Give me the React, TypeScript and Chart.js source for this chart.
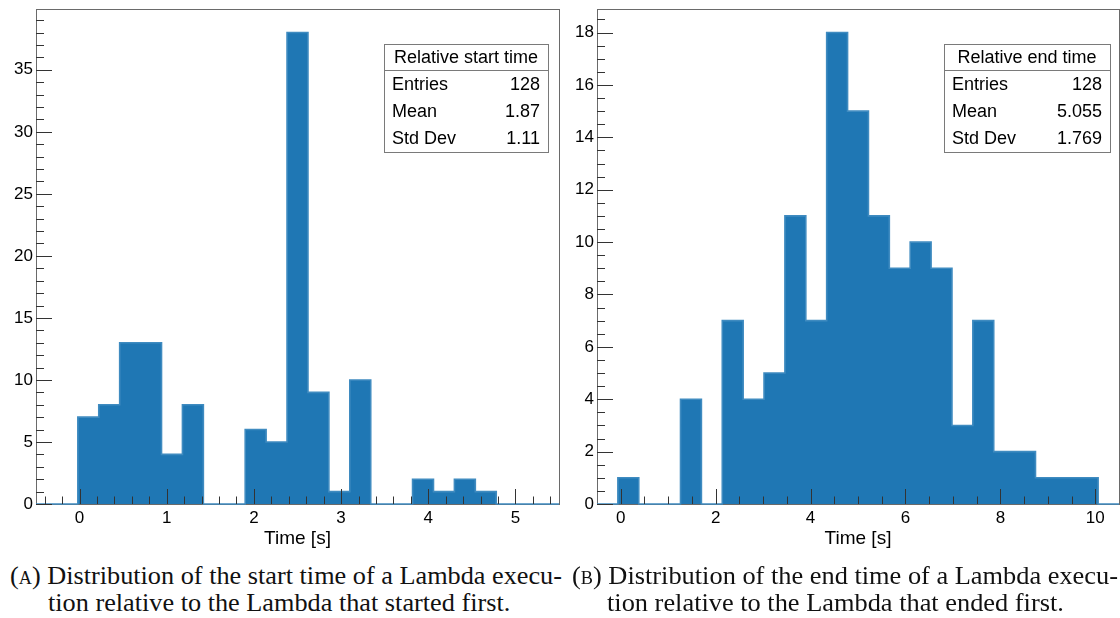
import React, { useEffect, useLayoutEffect, useRef } from 'react';
import { Chart, registerables } from 'chart.js';

Chart.register(...registerables);

const SANS = '"Liberation Sans", Arial, Helvetica, sans-serif';
const SERIF = '"Liberation Serif", "Times New Roman", serif';
const BAR_FILL = '#1f77b4';
const BAR_EDGE = '#3f8bc0';

// (A) relative start time: 25 bins of 0.24 s over [-0.5, 5.5]
const startBinEdges = [
  -0.5, -0.26, -0.02, 0.22, 0.46, 0.7, 0.94, 1.18, 1.42, 1.66, 1.9, 2.14, 2.38,
  2.62, 2.86, 3.1, 3.34, 3.58, 3.82, 4.06, 4.3, 4.54, 4.78, 5.02, 5.26, 5.5,
];
const startCounts = [0, 0, 7, 8, 13, 13, 4, 8, 0, 0, 6, 5, 38, 9, 1, 10, 0, 0, 2, 1, 2, 1, 0, 0, 0];
const startXTicks = [0, 1, 2, 3, 4, 5];
const startYTicks = [0, 5, 10, 15, 20, 25, 30, 35];
const startStatLabels = ['Entries', 'Mean', 'Std Dev'];
const startStatValues = ['128', '1.87', '1.11'];

// (B) relative end time: 25 bins of 0.44 s over [-0.5, 10.5]
const endBinEdges = [
  -0.5, -0.06, 0.38, 0.82, 1.26, 1.7, 2.14, 2.58, 3.02, 3.46, 3.9, 4.34, 4.78,
  5.22, 5.66, 6.1, 6.54, 6.98, 7.42, 7.86, 8.3, 8.74, 9.18, 9.62, 10.06, 10.5,
];
const endCounts = [0, 1, 0, 0, 4, 0, 7, 4, 5, 11, 7, 18, 15, 11, 9, 10, 9, 3, 7, 2, 2, 1, 1, 1, 0];
const endXTicks = [0, 2, 4, 6, 8, 10];
const endYTicks = [0, 2, 4, 6, 8, 10, 12, 14, 16, 18];
const endStatLabels = ['Entries', 'Mean', 'Std Dev'];
const endStatValues = ['128', '5.055', '1.769'];

type FrameOpts = {
  xMinorStep: number;
  yMinorStep: number;
  statsTitle: string;
  statLabels: string[];
  statValues: string[];
  boxGap: number;
  boxWidth: number;
};

const crisp = (v: number) => Math.round(v) + 0.5;

// Frame under the histogram; inward ticks and the statistics box over it
const histFrame = {
  id: 'histFrame',
  beforeDatasetsDraw(chart: any) {
    const { ctx, chartArea } = chart;
    const { left, right, top, bottom } = chartArea;
    ctx.save();
    ctx.strokeStyle = '#6a6a6a';
    ctx.lineWidth = 1;
    ctx.strokeRect(crisp(left), crisp(top), Math.round(right - left), Math.round(bottom - top));
    ctx.restore();
  },
  afterDatasetsDraw(chart: any, _args: any, opts: FrameOpts) {
    const { ctx, chartArea, scales } = chart;
    const { left, right, top, bottom } = chartArea;
    const xs = scales.x;
    const ys = scales.y;
    ctx.save();

    ctx.strokeStyle = '#333';
    ctx.lineWidth = 1;
    ctx.beginPath();
    const majorX = new Set(xs.ticks.map((t: any) => t.value));
    const majorY = new Set(ys.ticks.map((t: any) => t.value));
    const kx0 = Math.ceil(xs.min / opts.xMinorStep - 1e-6);
    const kx1 = Math.floor(xs.max / opts.xMinorStep + 1e-6);
    for (let k = kx0; k <= kx1; k++) {
      const v = +(k * opts.xMinorStep).toFixed(6);
      if (majorX.has(v)) continue;
      const px = crisp(xs.getPixelForValue(v));
      if (px <= left + 1 || px >= right - 1) continue;
      ctx.moveTo(px, bottom);
      ctx.lineTo(px, bottom - 7.5);
    }
    xs.ticks.forEach((t: any) => {
      const px = crisp(xs.getPixelForValue(t.value));
      ctx.moveTo(px, bottom);
      ctx.lineTo(px, bottom - 15);
    });
    const ky1 = Math.floor(ys.max / opts.yMinorStep + 1e-6);
    for (let k = 1; k <= ky1; k++) {
      const v = +(k * opts.yMinorStep).toFixed(6);
      if (majorY.has(v)) continue;
      const py = crisp(ys.getPixelForValue(v));
      if (py <= top + 1) continue;
      ctx.moveTo(left, py);
      ctx.lineTo(left + 8, py);
    }
    ys.ticks.forEach((t: any) => {
      const py = crisp(ys.getPixelForValue(t.value));
      ctx.moveTo(left, py);
      ctx.lineTo(left + 16, py);
    });
    ctx.stroke();

    // statistics box
    const bx1 = Math.round(right - opts.boxGap);
    const bx0 = bx1 - opts.boxWidth;
    const by0 = Math.round(top + 35);
    const headH = 26;
    const rowH = 27;
    const by1 = by0 + headH + rowH * opts.statLabels.length + 1;
    ctx.fillStyle = '#fff';
    ctx.fillRect(bx0, by0, bx1 - bx0, by1 - by0);
    ctx.strokeStyle = '#7a7a7a';
    ctx.strokeRect(bx0 + 0.5, by0 + 0.5, bx1 - bx0, by1 - by0);
    ctx.beginPath();
    ctx.moveTo(bx0, by0 + headH + 0.5);
    ctx.lineTo(bx1, by0 + headH + 0.5);
    ctx.stroke();

    ctx.fillStyle = '#000';
    ctx.font = `18px ${SANS}`;
    ctx.textBaseline = 'middle';
    ctx.textAlign = 'center';
    ctx.fillText(opts.statsTitle, (bx0 + bx1) / 2, by0 + 14);
    opts.statLabels.forEach((lab, i) => {
      const cy = by0 + headH + 15 + i * rowH;
      ctx.textAlign = 'left';
      ctx.fillText(lab, bx0 + 8, cy);
      ctx.textAlign = 'right';
      ctx.fillText(opts.statValues[i], bx1 - 8, cy);
    });
    ctx.restore();
  },
};

type HistProps = {
  edges: number[];
  counts: number[];
  xMin: number;
  xMax: number;
  yMax: number;
  xTicks: number[];
  yTicks: number[];
  xMinorStep: number;
  yMinorStep: number;
  statsTitle: string;
  statLabels: string[];
  statValues: string[];
  yAxisWidth: number;
  padRight: number;
  boxGap: number;
  boxWidth: number;
  left: number;
  width: number;
};

const CANVAS_H = 556;
const PLOT_BOTTOM = 504;

function Histogram(p: HistProps) {
  const ref = useRef<HTMLCanvasElement>(null);
  useEffect(() => {
    // step points at each left bin edge; the final edge closes the last bin
    const points = p.edges.map((e, i) => ({ x: e, y: p.counts[Math.min(i, p.counts.length - 1)] }));
    const chart = new Chart(ref.current as HTMLCanvasElement, {
      type: 'line',
      data: {
        datasets: [
          {
            data: points,
            stepped: 'before',
            fill: 'origin',
            backgroundColor: BAR_FILL,
            borderColor: BAR_EDGE,
            borderWidth: 1.6,
            pointRadius: 0,
            clip: { left: 0, top: 2, right: 0, bottom: 2 },
          },
        ],
      },
      options: {
        animation: false,
        responsive: false,
        events: [],
        layout: { padding: { left: 0, right: p.padRight, top: 9, bottom: 0 } },
        plugins: {
          legend: { display: false },
          tooltip: { enabled: false },
          histFrame: {
            xMinorStep: p.xMinorStep,
            yMinorStep: p.yMinorStep,
            statsTitle: p.statsTitle,
            statLabels: p.statLabels,
            statValues: p.statValues,
            boxGap: p.boxGap,
            boxWidth: p.boxWidth,
          },
        } as any,
        scales: {
          x: {
            type: 'linear',
            min: p.xMin,
            max: p.xMax,
            grid: { display: false, drawTicks: false },
            border: { display: false },
            ticks: {
              color: '#000',
              font: { family: SANS, size: 17 },
              padding: 4,
              maxRotation: 0,
              autoSkip: false,
              callback: (v: any) => String(v),
            },
            title: {
              display: true,
              text: 'Time [s]',
              color: '#000',
              font: { family: SANS, size: 19 },
              padding: { top: 0, bottom: 6 },
            },
            afterBuildTicks: (s: any) => {
              s.ticks = p.xTicks.map((v) => ({ value: v }));
            },
            afterFit: (s: any) => {
              s.height = CANVAS_H - PLOT_BOTTOM;
              s.paddingLeft = 0;
              s.paddingRight = 0;
              s.paddingTop = 0;
              s.paddingBottom = 0;
            },
          },
          y: {
            type: 'linear',
            min: 0,
            max: p.yMax,
            grid: { display: false, drawTicks: false },
            border: { display: false },
            ticks: {
              color: '#000',
              font: { family: SANS, size: 17 },
              padding: 3,
              autoSkip: false,
              callback: (v: any) => String(v),
            },
            afterBuildTicks: (s: any) => {
              s.ticks = p.yTicks.map((v) => ({ value: v }));
            },
            afterFit: (s: any) => {
              s.width = p.yAxisWidth;
              s.paddingLeft = 0;
              s.paddingRight = 0;
              s.paddingTop = 0;
              s.paddingBottom = 0;
            },
          },
        },
      },
      plugins: [histFrame],
    } as any);
    return () => chart.destroy();
  }, []);
  return (
    <canvas
      ref={ref}
      width={p.width}
      height={CANVAS_H}
      style={{ position: 'absolute', left: p.left, top: 0, width: p.width, height: CANVAS_H }}
    />
  );
}

type CaptionProps = {
  tag: string;
  line1: string;
  line2: string;
  left: number;
  width: number;
  line2Left: number;
};

function Caption({ tag, line1, line2, left, width, line2Left }: CaptionProps) {
  const r1 = useRef<HTMLDivElement>(null);
  const r2 = useRef<HTMLDivElement>(null);
  useLayoutEffect(() => {
    const a = r1.current as HTMLDivElement;
    const b = r2.current as HTMLDivElement;
    const w = a.getBoundingClientRect().width;
    const k = width / w;
    a.style.transform = `scaleX(${k})`;
    b.style.transform = `scaleX(${k})`;
  }, []);
  const base: React.CSSProperties = {
    position: 'absolute',
    whiteSpace: 'nowrap',
    fontFamily: SERIF,
    fontSize: 26,
    lineHeight: '26px',
    color: '#111',
    transformOrigin: '0 0',
  };
  return (
    <>
      <div ref={r1} style={{ ...base, left, top: 563 }}>
        (<span style={{ fontVariant: 'small-caps' }}>{tag}</span>) {line1}
      </div>
      <div ref={r2} style={{ ...base, left: line2Left, top: 590 }}>
        {line2}
      </div>
    </>
  );
}

export default function App() {
  return (
    <div
      style={{
        position: 'absolute',
        left: 0,
        top: 0,
        width: 1120,
        height: 618,
        background: '#fff',
        overflow: 'hidden',
      }}
    >
      <Histogram
        edges={startBinEdges}
        counts={startCounts}
        xMin={-0.5}
        xMax={5.5}
        yMax={39.9}
        xTicks={startXTicks}
        yTicks={startYTicks}
        xMinorStep={0.2}
        yMinorStep={1}
        statsTitle="Relative start time"
        statLabels={startStatLabels}
        statValues={startStatValues}
        yAxisWidth={36}
        padRight={3}
        boxGap={11}
        boxWidth={164}
        left={0}
        width={562}
      />
      <Histogram
        edges={endBinEdges}
        counts={endCounts}
        xMin={-0.5}
        xMax={10.5}
        yMax={18.9}
        xTicks={endXTicks}
        yTicks={endYTicks}
        xMinorStep={0.5}
        yMinorStep={0.5}
        statsTitle="Relative end time"
        statLabels={endStatLabels}
        statValues={endStatValues}
        yAxisWidth={37}
        padRight={1}
        boxGap={9}
        boxWidth={166}
        left={560}
        width={560}
      />
      <Caption
        tag="a"
        line1="Distribution of the start time of a Lambda execu-"
        line2="tion relative to the Lambda that started first."
        left={10}
        width={552}
        line2Left={48}
      />
      <Caption
        tag="b"
        line1="Distribution of the end time of a Lambda execu-"
        line2="tion relative to the Lambda that ended first."
        left={572}
        width={546}
        line2Left={607}
      />
    </div>
  );
}
